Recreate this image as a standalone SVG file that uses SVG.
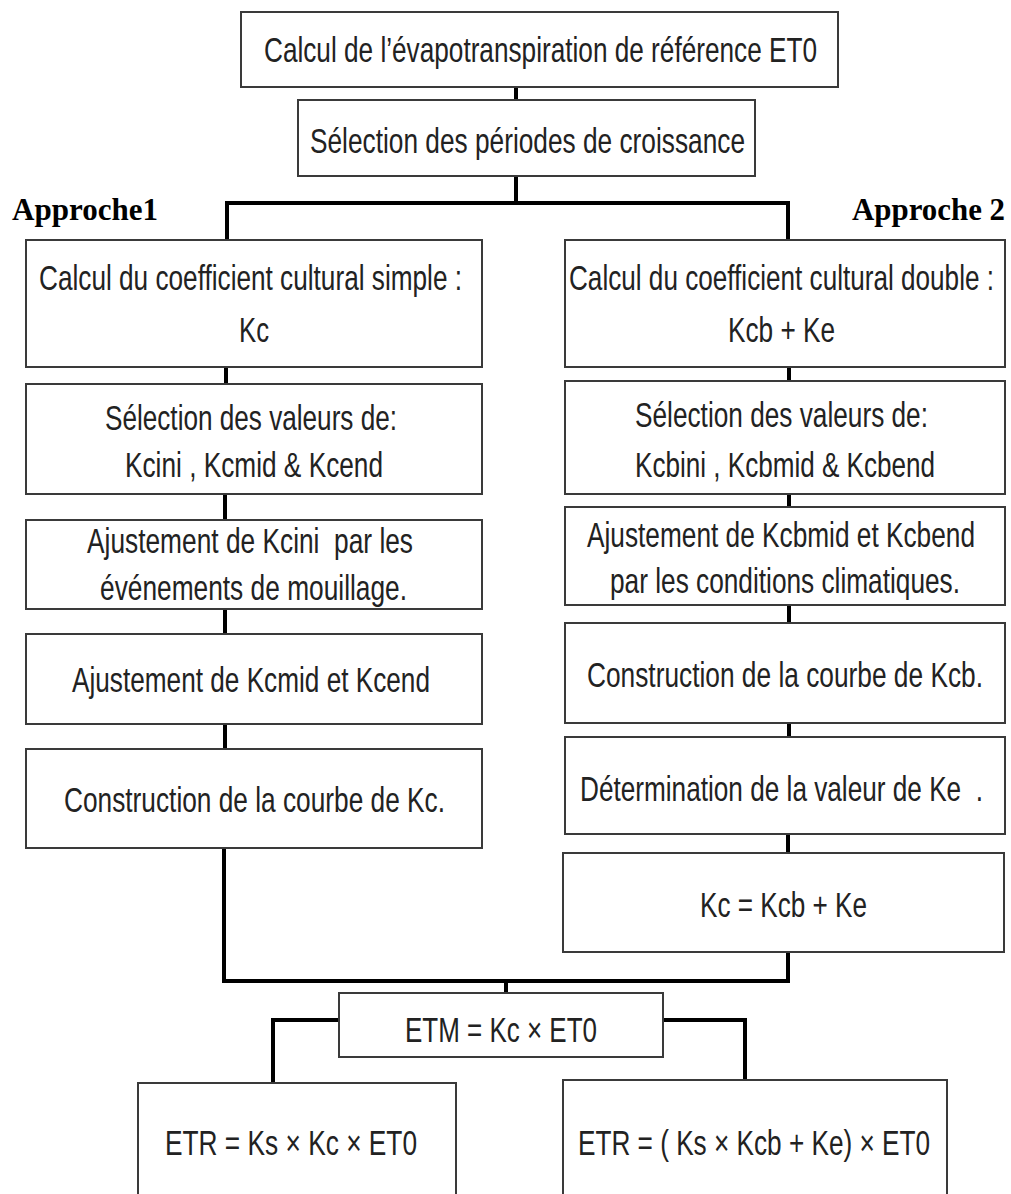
<svg xmlns="http://www.w3.org/2000/svg" width="1011" height="1194" viewBox="0 0 1011 1194">
<style>
.box{fill:#fff;stroke:#3a3a3a;stroke-width:2}
.t{font-family:"Liberation Sans Narrow","Liberation Sans",Arial,sans-serif;font-size:35px;fill:#222}
.h{font-family:"Liberation Serif","Times New Roman",serif;font-size:31px;font-weight:bold;fill:#000}
.c{fill:none;stroke:#000;stroke-width:4;stroke-linejoin:miter}
</style>
<rect width="1011" height="1194" fill="#fff"/>
<g id="connectors">
<path class="c" d="M516 87V100"/>
<path class="c" d="M516 176V203"/>
<path class="c" d="M227 240V203H788V240"/>
<path class="c" d="M226 367V384M225 494V520M225 609V634M225 724V749"/>
<path class="c" d="M789 367V381M789 494V507M789 605V623M789 723V737M788 834V853"/>
<path class="c" d="M224 848V981H788V952"/>
<path class="c" d="M506 981V993"/>
<path class="c" d="M339 1020H273V1083"/>
<path class="c" d="M663 1020H745V1080"/>
</g>
<g id="n_et0"><rect class="box" x="241" y="12" width="597" height="75"/><text class="t" x="264" y="62" textLength="553" lengthAdjust="spacingAndGlyphs">Calcul de l’évapotranspiration de référence ET0</text></g>
<g id="n_periodes"><rect class="box" x="298" y="100" width="457" height="76"/><text class="t" x="310" y="153" textLength="435" lengthAdjust="spacingAndGlyphs">Sélection des périodes de croissance</text></g>
<g id="lbl_a1"><text class="h" x="12" y="220" textLength="146" lengthAdjust="spacingAndGlyphs">Approche1</text></g>
<g id="lbl_a2"><text class="h" x="852" y="220" textLength="153" lengthAdjust="spacingAndGlyphs">Approche 2</text></g>
<g id="l1"><rect class="box" x="26" y="240" width="456" height="127"/><text class="t" x="39" y="290" textLength="423" lengthAdjust="spacingAndGlyphs">Calcul du coefficient cultural simple :</text><text class="t" x="239" y="342" textLength="30" lengthAdjust="spacingAndGlyphs">Kc</text></g>
<g id="l2"><rect class="box" x="26" y="384" width="456" height="110"/><text class="t" x="105" y="430" textLength="292" lengthAdjust="spacingAndGlyphs">Sélection des valeurs de:</text><text class="t" x="125" y="477" textLength="258" lengthAdjust="spacingAndGlyphs">Kcini , Kcmid &amp; Kcend</text></g>
<g id="l3"><rect class="box" x="26" y="520" width="456" height="89"/><text class="t" x="87" y="553" textLength="326" lengthAdjust="spacingAndGlyphs">Ajustement de Kcini&#160; par les</text><text class="t" x="100" y="600" textLength="307" lengthAdjust="spacingAndGlyphs">événements de mouillage.</text></g>
<g id="l4"><rect class="box" x="26" y="634" width="456" height="90"/><text class="t" x="72" y="692" textLength="358" lengthAdjust="spacingAndGlyphs">Ajustement de Kcmid et Kcend</text></g>
<g id="l5"><rect class="box" x="26" y="749" width="456" height="99"/><text class="t" x="64" y="812" textLength="381" lengthAdjust="spacingAndGlyphs">Construction de la courbe de Kc.</text></g>
<g id="r1"><rect class="box" x="565" y="240" width="440" height="127"/><text class="t" x="569" y="290" textLength="425" lengthAdjust="spacingAndGlyphs">Calcul du coefficient cultural double :</text><text class="t" x="728" y="342" textLength="107" lengthAdjust="spacingAndGlyphs">Kcb + Ke</text></g>
<g id="r2"><rect class="box" x="565" y="381" width="440" height="113"/><text class="t" x="635" y="427" textLength="293" lengthAdjust="spacingAndGlyphs">Sélection des valeurs de:</text><text class="t" x="635" y="477" textLength="300" lengthAdjust="spacingAndGlyphs">Kcbini , Kcbmid &amp; Kcbend</text></g>
<g id="r3"><rect class="box" x="565" y="507" width="440" height="98"/><text class="t" x="587" y="547" textLength="388" lengthAdjust="spacingAndGlyphs">Ajustement de Kcbmid et Kcbend</text><text class="t" x="610" y="593" textLength="350" lengthAdjust="spacingAndGlyphs">par les conditions climatiques.</text></g>
<g id="r4"><rect class="box" x="565" y="623" width="440" height="100"/><text class="t" x="587" y="687" textLength="396" lengthAdjust="spacingAndGlyphs">Construction de la courbe de Kcb.</text></g>
<g id="r5"><rect class="box" x="565" y="737" width="440" height="97"/><text class="t" x="580" y="801" textLength="403" lengthAdjust="spacingAndGlyphs">Détermination de la valeur de Ke&#160; .</text></g>
<g id="r6"><rect class="box" x="563" y="853" width="441" height="99"/><text class="t" x="700" y="917" textLength="167" lengthAdjust="spacingAndGlyphs">Kc = Kcb + Ke</text></g>
<g id="etm"><rect class="box" x="339" y="993" width="324" height="64"/><text class="t" x="405" y="1042" textLength="192" lengthAdjust="spacingAndGlyphs">ETM = Kc × ET0</text></g>
<g id="etr1"><rect class="box" x="138" y="1083" width="318" height="130"/><text class="t" x="165" y="1155" textLength="252" lengthAdjust="spacingAndGlyphs">ETR = Ks × Kc × ET0</text></g>
<g id="etr2"><rect class="box" x="563" y="1080" width="384" height="130"/><text class="t" x="578" y="1155" textLength="352" lengthAdjust="spacingAndGlyphs">ETR = ( Ks × Kcb + Ke) × ET0</text></g>
</svg>
